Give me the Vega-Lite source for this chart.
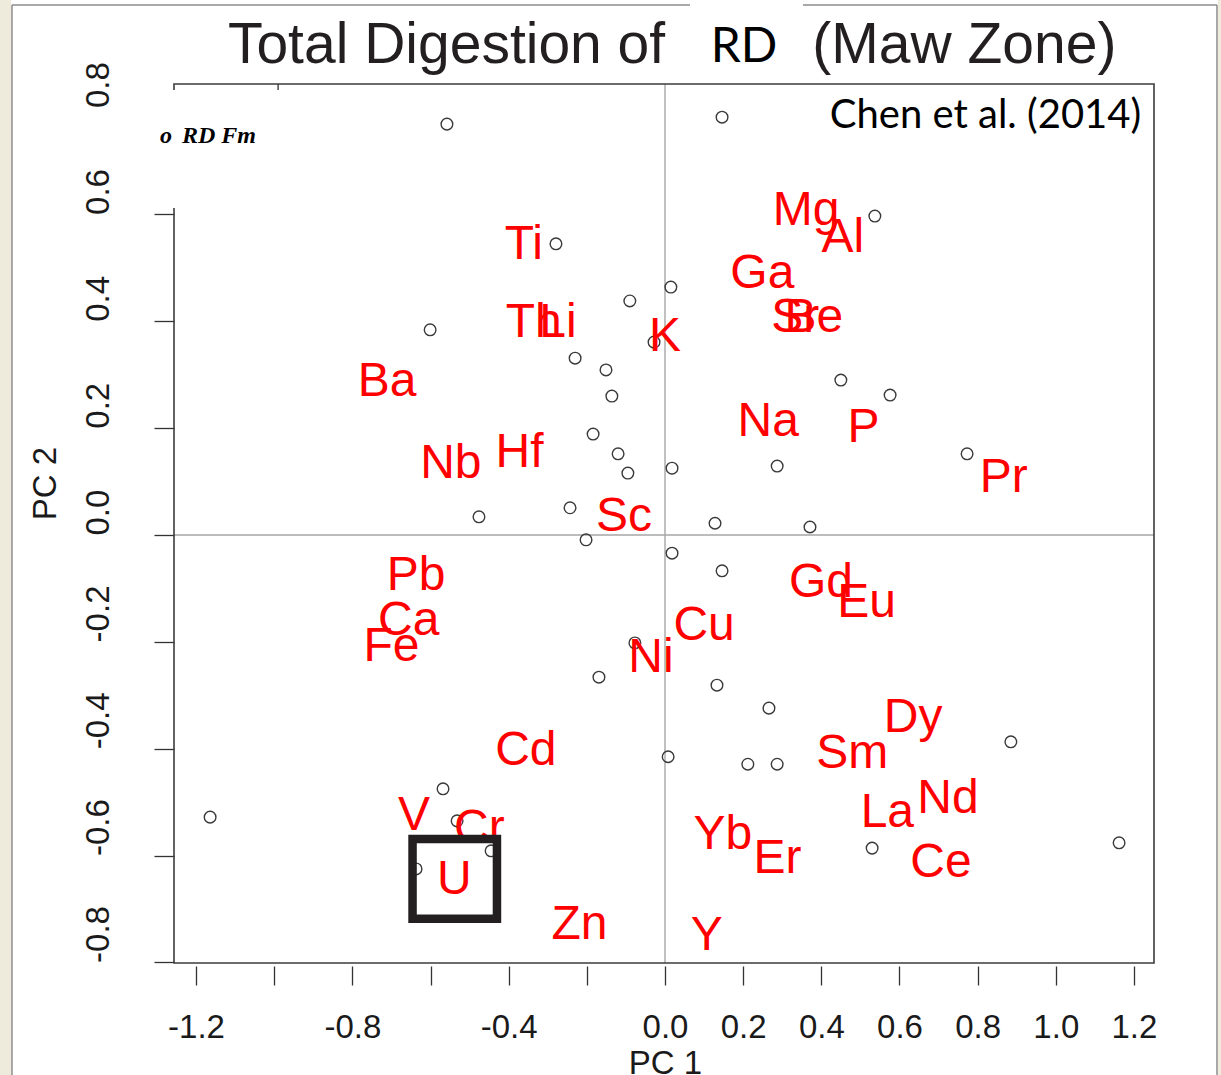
{
  "$schema": "https://vega.github.io/schema/vega-lite/v6.json",
  "width": 980,
  "height": 879,
  "autosize": {"type": "none"},
  "padding": {"left": 174, "top": 84, "right": 67, "bottom": 112},
  "background": "white",
  "config": {"view": {"stroke": null}},
  "datasets": {
    "samples": [
      {"x": -0.558, "y": 0.769}, {"x": 0.146, "y": 0.782}, {"x": 0.537, "y": 0.597},
      {"x": -0.279, "y": 0.545}, {"x": 0.015, "y": 0.464}, {"x": -0.090, "y": 0.438},
      {"x": -0.601, "y": 0.384}, {"x": -0.028, "y": 0.361}, {"x": -0.230, "y": 0.331},
      {"x": -0.151, "y": 0.309}, {"x": 0.450, "y": 0.290}, {"x": -0.136, "y": 0.260},
      {"x": 0.576, "y": 0.262}, {"x": -0.184, "y": 0.189}, {"x": 0.773, "y": 0.152},
      {"x": -0.120, "y": 0.152}, {"x": 0.287, "y": 0.129}, {"x": 0.018, "y": 0.125},
      {"x": -0.095, "y": 0.116}, {"x": -0.476, "y": 0.034}, {"x": -0.243, "y": 0.051},
      {"x": 0.128, "y": 0.022}, {"x": 0.371, "y": 0.015}, {"x": -0.202, "y": -0.009},
      {"x": 0.018, "y": -0.034}, {"x": 0.146, "y": -0.067}, {"x": -0.077, "y": -0.202},
      {"x": -0.169, "y": -0.266}, {"x": 0.133, "y": -0.281}, {"x": 0.266, "y": -0.324},
      {"x": 0.008, "y": -0.415}, {"x": 0.212, "y": -0.429}, {"x": 0.287, "y": -0.429},
      {"x": 0.885, "y": -0.387}, {"x": -0.568, "y": -0.475}, {"x": -1.164, "y": -0.528},
      {"x": -0.532, "y": -0.535}, {"x": -0.445, "y": -0.591}, {"x": -0.637, "y": -0.625},
      {"x": 0.530, "y": -0.586}, {"x": 1.162, "y": -0.576}
    ],
    "elements": [
      {"el": "Ti", "x": -0.361, "y": 0.543}, {"el": "Th", "x": -0.336, "y": 0.397},
      {"el": "Li", "x": -0.274, "y": 0.397}, {"el": "Ba", "x": -0.711, "y": 0.286},
      {"el": "Nb", "x": -0.548, "y": 0.133}, {"el": "Hf", "x": -0.372, "y": 0.153},
      {"el": "Sc", "x": -0.105, "y": 0.034}, {"el": "K", "x": 0.000, "y": 0.371},
      {"el": "Mg", "x": 0.361, "y": 0.606}, {"el": "Al", "x": 0.455, "y": 0.556},
      {"el": "Ga", "x": 0.249, "y": 0.488}, {"el": "Sr", "x": 0.333, "y": 0.406},
      {"el": "Be", "x": 0.381, "y": 0.406}, {"el": "Na", "x": 0.264, "y": 0.211},
      {"el": "P", "x": 0.508, "y": 0.200}, {"el": "Pr", "x": 0.867, "y": 0.107},
      {"el": "Pb", "x": -0.637, "y": -0.077}, {"el": "Ca", "x": -0.656, "y": -0.161},
      {"el": "Fe", "x": -0.700, "y": -0.210}, {"el": "Cd", "x": -0.356, "y": -0.404},
      {"el": "V", "x": -0.642, "y": -0.526}, {"el": "Cr", "x": -0.475, "y": -0.550},
      {"el": "U", "x": -0.539, "y": -0.646}, {"el": "Zn", "x": -0.219, "y": -0.730},
      {"el": "Ni", "x": -0.036, "y": -0.230}, {"el": "Gd", "x": 0.399, "y": -0.090},
      {"el": "Eu", "x": 0.516, "y": -0.127}, {"el": "Cu", "x": 0.100, "y": -0.170},
      {"el": "Dy", "x": 0.635, "y": -0.343}, {"el": "Sm", "x": 0.479, "y": -0.410},
      {"el": "La", "x": 0.569, "y": -0.520}, {"el": "Nd", "x": 0.724, "y": -0.494},
      {"el": "Yb", "x": 0.148, "y": -0.561}, {"el": "Er", "x": 0.288, "y": -0.606},
      {"el": "Ce", "x": 0.706, "y": -0.614}, {"el": "Y", "x": 0.107, "y": -0.751}
    ],
    "shapes": [
      {"kind": "bg", "x": -1.72, "x2": -1.673, "y": 1.02, "y2": -1.03},
      {"kind": "bg", "x": 1.415, "x2": 1.44, "y": 1.02, "y2": -1.03},
      {"kind": "frame", "x": -1.671, "x2": -1.671, "y": 0.992, "y2": -1.03},
      {"kind": "frame", "x": 1.4125, "x2": 1.4125, "y": 0.992, "y2": -1.03},
      {"kind": "frame", "x": -1.671, "x2": 0.064, "y": 0.992, "y2": 0.992},
      {"kind": "frame", "x": 0.353, "x2": 1.4125, "y": 0.992, "y2": 0.992},
      {"kind": "zero", "x": 0, "x2": 0, "y": -0.801, "y2": 0.8441},
      {"kind": "zero", "x": -1.2564, "x2": 1.2513, "y": 0, "y2": 0},
      {"kind": "box", "x": -1.2564, "x2": 1.2513, "y": -0.801, "y2": 0.8441},
      {"kind": "tick", "x": -0.990, "x2": -0.990, "y": 0.8441, "y2": 0.8329},
      {"kind": "square", "x": -0.646, "x2": -0.430, "y": -0.569, "y2": -0.718},
      {"kind": "white", "x": -1.3178, "x2": -0.9724, "y": 0.8329, "y2": 0.612}
    ],
    "notes": [
      {"kind": "title", "text": "Total Digestion of", "x": -0.559, "y": 0.8834},
      {"kind": "title", "text": "(Maw Zone)", "x": 0.766, "y": 0.883},
      {"kind": "rd", "text": "RD", "x": 0.202, "y": 0.885},
      {"kind": "cite", "text": "Chen et al. (2014)", "x": 0.820, "y": 0.762},
      {"kind": "legend", "text": "o", "x": -1.292, "y": 0.734},
      {"kind": "legend", "text": "RD Fm", "x": -1.236, "y": 0.734}
    ]
  },
  "encoding": {
    "x": {"field": "x", "type": "quantitative",
      "scale": {"domain": [-1.2564, 1.2513], "nice": false, "zero": false},
      "axis": {"title": "PC 1", "values": [-1.2, -1.0, -0.8, -0.6, -0.4, -0.2, 0, 0.2, 0.4, 0.6, 0.8, 1.0, 1.2],
        "labelExpr": "(abs(datum.value + 1.0) < 0.01 || abs(datum.value + 0.6) < 0.01 || abs(datum.value + 0.2) < 0.01) ? '' : ((datum.value < -0.001 ? '-' : '') + format(abs(datum.value), '.1f'))",
        "orient": "bottom", "offset": 3, "tickSize": 19, "labelPadding": 26, "domain": false, "grid": false,
        "labelFont": "Liberation Sans", "labelFontSize": 33, "labelColor": "#1a1a1a", "tickColor": "#333333", "tickWidth": 1.3,
        "titleFont": "Liberation Sans", "titleFontSize": 33, "titleFontWeight": "normal", "titleColor": "#1a1a1a",
        "titleX": 491, "titleY": 81, "titleBaseline": "top", "titleAlign": "center"}},
    "y": {"field": "y", "type": "quantitative",
      "scale": {"domain": [-0.801, 0.8441], "nice": false, "zero": false},
      "axis": {"title": "PC 2", "values": [-0.8, -0.6, -0.4, -0.2, 0, 0.2, 0.4, 0.6, 0.8],
        "labelExpr": "(datum.value < -0.001 ? '-' : '') + format(abs(datum.value), '.1f')",
        "orient": "left", "tickSize": 20, "labelPadding": 46, "labelAngle": -90, "labelAlign": "left", "labelBaseline": "alphabetic",
        "domain": false, "grid": false,
        "labelFont": "Liberation Sans", "labelFontSize": 33, "labelColor": "#1a1a1a", "tickColor": "#333333", "tickWidth": 1.3,
        "titleFont": "Liberation Sans", "titleFontSize": 33, "titleFontWeight": "normal", "titleColor": "#1a1a1a",
        "titleX": -119, "titleY": 399, "titleAngle": -90, "titleAlign": "center", "titleBaseline": "alphabetic"}}
  },
  "layer": [
    {"data": {"name": "shapes"}, "transform": [{"filter": "datum.kind == 'bg'"}],
     "mark": {"type": "rect", "fill": "#EEEBDC", "stroke": null},
     "encoding": {"x2": {"field": "x2"}, "y2": {"field": "y2"}}},
    {"data": {"name": "shapes"}, "transform": [{"filter": "datum.kind == 'frame'"}],
     "mark": {"type": "rule", "stroke": "#8C8C8C", "strokeWidth": 1.5},
     "encoding": {"x2": {"field": "x2"}, "y2": {"field": "y2"}}},
    {"data": {"name": "shapes"}, "transform": [{"filter": "datum.kind == 'zero'"}],
     "mark": {"type": "rule", "stroke": "#A6A6A6", "strokeWidth": 1.4},
     "encoding": {"x2": {"field": "x2"}, "y2": {"field": "y2"}}},
    {"data": {"name": "shapes"}, "transform": [{"filter": "datum.kind == 'box'"}],
     "mark": {"type": "rect", "fill": null, "stroke": "#3C3C3C", "strokeWidth": 1.6},
     "encoding": {"x2": {"field": "x2"}, "y2": {"field": "y2"}}},
    {"data": {"name": "shapes"}, "transform": [{"filter": "datum.kind == 'tick'"}],
     "mark": {"type": "rule", "stroke": "#3C3C3C", "strokeWidth": 1.4},
     "encoding": {"x2": {"field": "x2"}, "y2": {"field": "y2"}}},
    {"data": {"name": "samples"},
     "mark": {"type": "point", "shape": "circle", "filled": false, "stroke": "#3A3A3A", "strokeWidth": 1.4, "size": 135, "opacity": 1},
     "encoding": {}},
    {"data": {"name": "elements"},
     "mark": {"type": "text", "font": "Liberation Sans", "fontSize": 48, "fill": "#FF0000", "align": "center", "baseline": "middle"},
     "encoding": {"text": {"field": "el"}}},
    {"data": {"name": "shapes"}, "transform": [{"filter": "datum.kind == 'square'"}],
     "mark": {"type": "rect", "fill": null, "stroke": "#231F20", "strokeWidth": 8.5},
     "encoding": {"x2": {"field": "x2"}, "y2": {"field": "y2"}}},
    {"data": {"name": "shapes"}, "transform": [{"filter": "datum.kind == 'white'"}],
     "mark": {"type": "rect", "fill": "white", "stroke": null},
     "encoding": {"x2": {"field": "x2"}, "y2": {"field": "y2"}}},
    {"data": {"name": "notes"}, "transform": [{"filter": "datum.kind == 'legend'"}],
     "mark": {"type": "text", "font": "Liberation Serif", "fontSize": 24, "fontStyle": "italic", "fontWeight": "bold", "fill": "#000000", "align": "left", "baseline": "alphabetic"},
     "encoding": {"text": {"field": "text"}}},
    {"data": {"name": "notes"}, "transform": [{"filter": "datum.kind == 'title'"}],
     "mark": {"type": "text", "font": "Liberation Sans", "fontSize": 57, "fill": "#231F20", "align": "center", "baseline": "alphabetic"},
     "encoding": {"text": {"field": "text"}}},
    {"data": {"name": "notes"}, "transform": [{"filter": "datum.kind == 'rd'"}],
     "mark": {"type": "text", "font": "Lato", "fontSize": 48, "fill": "#000000", "align": "center", "baseline": "alphabetic"},
     "encoding": {"text": {"field": "text"}}},
    {"data": {"name": "notes"}, "transform": [{"filter": "datum.kind == 'cite'"}],
     "mark": {"type": "text", "font": "Lato", "fontSize": 40, "fill": "#000000", "align": "center", "baseline": "alphabetic"},
     "encoding": {"text": {"field": "text"}}}
  ]
}
